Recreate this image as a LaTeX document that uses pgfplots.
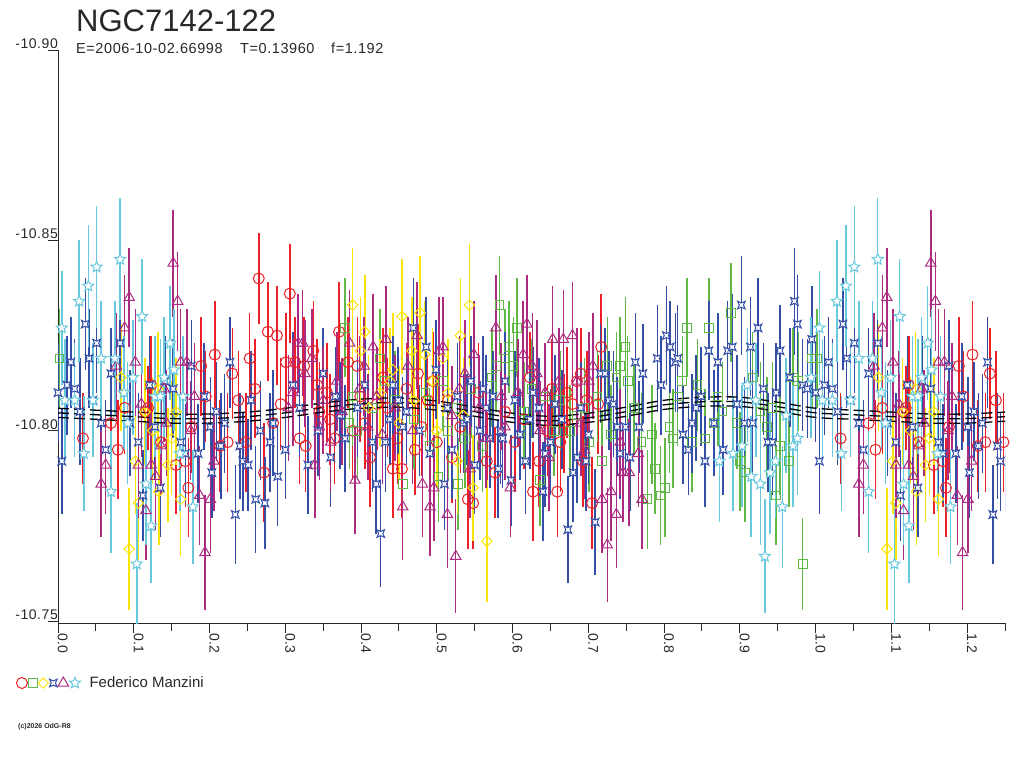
\documentclass[border=0pt]{standalone}
\usepackage{fontspec}
\setmainfont{Liberation Sans}
\newfontfamily\spaced[LetterSpace=4]{Liberation Sans}
\usepackage{pgfplots}
\usepackage{pgfplotstable}
\pgfplotsset{compat=1.18}
\usetikzlibrary{plotmarks}

\definecolor{cred}{RGB}{236,32,40}
\definecolor{cgreen}{RGB}{98,184,70}
\definecolor{cyel}{RGB}{250,228,10}
\definecolor{cblue}{RGB}{52,78,168}
\definecolor{cmag}{RGB}{172,42,128}
\definecolor{ccyan}{RGB}{104,200,222}
\definecolor{txt}{RGB}{40,40,40}

\pgfdeclareplotmark{qstar}{%
  \pgfpathmoveto{\pgfqpoint{-\pgfplotmarksize}{-\pgfplotmarksize}}%
  \pgfpathlineto{\pgfqpoint{0pt}{-0.55\pgfplotmarksize}}%
  \pgfpathlineto{\pgfqpoint{\pgfplotmarksize}{-\pgfplotmarksize}}%
  \pgfpathlineto{\pgfqpoint{0.55\pgfplotmarksize}{0pt}}%
  \pgfpathlineto{\pgfqpoint{\pgfplotmarksize}{\pgfplotmarksize}}%
  \pgfpathlineto{\pgfqpoint{0pt}{0.55\pgfplotmarksize}}%
  \pgfpathlineto{\pgfqpoint{-\pgfplotmarksize}{\pgfplotmarksize}}%
  \pgfpathlineto{\pgfqpoint{-0.55\pgfplotmarksize}{0pt}}%
  \pgfpathclose
  \pgfusepathqfillstroke}

\pgfdeclareplotmark{ostar}{%
  \pgfpathmoveto{\pgfqpoint{0pt}{\pgfplotmarksize}}%
  \pgfpathlineto{\pgfqpoint{-0.265\pgfplotmarksize}{0.364\pgfplotmarksize}}%
  \pgfpathlineto{\pgfqpoint{-0.951\pgfplotmarksize}{0.309\pgfplotmarksize}}%
  \pgfpathlineto{\pgfqpoint{-0.428\pgfplotmarksize}{-0.139\pgfplotmarksize}}%
  \pgfpathlineto{\pgfqpoint{-0.588\pgfplotmarksize}{-0.809\pgfplotmarksize}}%
  \pgfpathlineto{\pgfqpoint{0pt}{-0.45\pgfplotmarksize}}%
  \pgfpathlineto{\pgfqpoint{0.588\pgfplotmarksize}{-0.809\pgfplotmarksize}}%
  \pgfpathlineto{\pgfqpoint{0.428\pgfplotmarksize}{-0.139\pgfplotmarksize}}%
  \pgfpathlineto{\pgfqpoint{0.951\pgfplotmarksize}{0.309\pgfplotmarksize}}%
  \pgfpathlineto{\pgfqpoint{0.265\pgfplotmarksize}{0.364\pgfplotmarksize}}%
  \pgfpathclose
  \pgfusepathqfillstroke}

\pgfplotstableread{
p m e
0.033 -10.798 0.012
0.070 -10.802 0.013
0.079 -10.795 0.013
0.088 -10.806 0.012
0.115 -10.805 0.013
0.119 -10.806 0.011
0.123 -10.812 0.013
0.136 -10.797 0.012
0.156 -10.791 0.013
0.168 -10.792 0.012
0.172 -10.785 0.013
0.176 -10.801 0.012
0.189 -10.817 0.013
0.195 -10.809 0.012
0.207 -10.820 0.014
0.214 -10.796 0.012
0.224 -10.797 0.013
0.230 -10.815 0.012
0.238 -10.808 0.013
0.248 -10.797 0.013
0.253 -10.819 0.012
0.260 -10.811 0.013
0.265 -10.840 0.012
0.272 -10.789 0.013
0.277 -10.826 0.013
0.284 -10.802 0.012
0.289 -10.825 0.013
0.294 -10.807 0.012
0.301 -10.818 0.013
0.306 -10.836 0.013
0.313 -10.818 0.012
0.319 -10.798 0.012
0.325 -10.817 0.013
0.327 -10.796 0.012
0.337 -10.821 0.013
0.342 -10.812 0.012
0.355 -10.810 0.013
0.359 -10.803 0.012
0.371 -10.826 0.013
0.383 -10.818 0.012
0.389 -10.800 0.013
0.399 -10.809 0.012
0.412 -10.793 0.013
0.421 -10.807 0.012
0.429 -10.814 0.013
0.442 -10.790 0.013
0.448 -10.798 0.012
0.454 -10.790 0.013
0.471 -10.795 0.012
0.475 -10.815 0.013
0.488 -10.808 0.012
0.495 -10.813 0.013
0.531 -10.801 0.012
0.541 -10.782 0.013
0.548 -10.781 0.012
0.566 -10.792 0.013
0.577 -10.789 0.012
0.603 -10.797 0.013
0.623 -10.814 0.012
0.627 -10.784 0.013
0.646 -10.800 0.012
0.652 -10.811 0.013
0.659 -10.784 0.012
0.663 -10.797 0.013
0.672 -10.810 0.012
0.679 -10.807 0.013
0.685 -10.813 0.013
0.693 -10.792 0.012
0.698 -10.808 0.013
0.705 -10.781 0.012
0.713 -10.807 0.013
0.717 -10.822 0.014
0.345 -10.805 0.013
0.365 -10.798 0.012
0.395 -10.817 0.013
0.405 -10.802 0.012
0.435 -10.806 0.013
0.460 -10.811 0.012
0.480 -10.801 0.013
0.500 -10.797 0.012
0.515 -10.808 0.013
0.520 -10.793 0.012
0.555 -10.810 0.013
0.590 -10.805 0.012
0.615 -10.803 0.013
0.635 -10.792 0.012
0.668 -10.802 0.013
0.690 -10.815 0.012
}\tblred

\pgfplotstableread{
p m e
0.002 -10.819 0.013
0.379 -10.827 0.013
0.385 -10.802 0.012
0.389 -10.809 0.013
0.425 -10.819 0.013
0.432 -10.813 0.012
0.455 -10.786 0.013
0.491 -10.796 0.013
0.502 -10.788 0.012
0.508 -10.813 0.013
0.527 -10.806 0.013
0.528 -10.786 0.012
0.537 -10.798 0.013
0.573 -10.814 0.013
0.578 -10.817 0.012
0.583 -10.833 0.013
0.590 -10.819 0.013
0.595 -10.822 0.012
0.601 -10.817 0.013
0.606 -10.827 0.013
0.636 -10.787 0.012
0.643 -10.809 0.013
0.663 -10.808 0.013
0.676 -10.800 0.012
0.685 -10.804 0.013
0.701 -10.797 0.013
0.712 -10.809 0.012
0.718 -10.792 0.013
0.725 -10.817 0.013
0.737 -10.814 0.012
0.742 -10.817 0.013
0.749 -10.822 0.013
0.752 -10.813 0.012
0.778 -10.782 0.013
0.784 -10.799 0.013
0.788 -10.790 0.012
0.795 -10.783 0.013
0.801 -10.785 0.013
0.807 -10.801 0.012
0.812 -10.798 0.013
0.818 -10.809 0.013
0.824 -10.813 0.012
0.830 -10.827 0.013
0.837 -10.797 0.013
0.844 -10.812 0.012
0.854 -10.798 0.013
0.859 -10.827 0.013
0.866 -10.802 0.012
0.871 -10.809 0.013
0.877 -10.805 0.013
0.888 -10.831 0.013
0.896 -10.802 0.012
0.900 -10.792 0.013
0.907 -10.789 0.013
0.917 -10.814 0.012
0.927 -10.805 0.013
0.936 -10.801 0.013
0.943 -10.806 0.012
0.948 -10.783 0.013
0.953 -10.796 0.013
0.965 -10.792 0.012
0.970 -10.814 0.013
0.977 -10.813 0.013
0.983 -10.765 0.012
0.995 -10.819 0.013
0.395 -10.800 0.013
0.415 -10.806 0.012
0.445 -10.808 0.013
0.470 -10.803 0.013
0.485 -10.810 0.012
0.515 -10.800 0.013
0.545 -10.811 0.013
0.560 -10.796 0.012
0.615 -10.805 0.013
0.625 -10.811 0.013
0.655 -10.800 0.012
0.695 -10.806 0.013
0.730 -10.799 0.013
0.760 -10.806 0.012
0.770 -10.797 0.013
}\tblgreen

\pgfplotstableread{
p m e
0.083 -10.814 0.014
0.094 -10.769 0.016
0.102 -10.792 0.014
0.106 -10.781 0.015
0.115 -10.805 0.014
0.132 -10.811 0.015
0.133 -10.784 0.014
0.145 -10.791 0.015
0.156 -10.805 0.014
0.162 -10.782 0.015
0.389 -10.833 0.015
0.399 -10.821 0.014
0.405 -10.826 0.015
0.425 -10.810 0.014
0.438 -10.813 0.014
0.442 -10.816 0.015
0.454 -10.830 0.015
0.467 -10.821 0.014
0.478 -10.831 0.015
0.484 -10.820 0.014
0.494 -10.813 0.014
0.508 -10.819 0.015
0.527 -10.792 0.014
0.531 -10.825 0.015
0.543 -10.833 0.016
0.548 -10.785 0.014
0.566 -10.771 0.016
0.410 -10.806 0.014
0.450 -10.802 0.015
0.470 -10.808 0.014
0.500 -10.800 0.015
0.515 -10.810 0.014
0.535 -10.804 0.015
0.125 -10.800 0.014
0.150 -10.798 0.015
}\tblyel

\pgfplotstableread{
p m e
0.000 -10.810 0.013
0.005 -10.792 0.014
0.012 -10.812 0.013
0.017 -10.818 0.012
0.022 -10.811 0.013
0.029 -10.805 0.014
0.036 -10.828 0.012
0.041 -10.819 0.013
0.046 -10.808 0.012
0.051 -10.823 0.013
0.057 -10.802 0.014
0.063 -10.795 0.013
0.070 -10.815 0.012
0.082 -10.823 0.013
0.095 -10.802 0.014
0.106 -10.797 0.013
0.112 -10.783 0.012
0.121 -10.812 0.013
0.128 -10.801 0.014
0.135 -10.785 0.013
0.141 -10.813 0.012
0.152 -10.811 0.013
0.162 -10.797 0.014
0.168 -10.794 0.013
0.176 -10.817 0.012
0.185 -10.794 0.013
0.193 -10.809 0.014
0.201 -10.801 0.013
0.203 -10.789 0.012
0.209 -10.805 0.013
0.215 -10.796 0.014
0.220 -10.802 0.013
0.227 -10.818 0.012
0.234 -10.778 0.013
0.240 -10.796 0.014
0.244 -10.792 0.013
0.251 -10.791 0.012
0.255 -10.808 0.013
0.261 -10.782 0.014
0.267 -10.800 0.013
0.273 -10.781 0.012
0.280 -10.797 0.013
0.284 -10.802 0.014
0.290 -10.788 0.013
0.319 -10.806 0.013
0.343 -10.800 0.012
0.366 -10.809 0.013
0.379 -10.798 0.014
0.420 -10.786 0.013
0.426 -10.773 0.014
0.432 -10.797 0.013
0.438 -10.803 0.012
0.442 -10.812 0.013
0.449 -10.808 0.014
0.455 -10.801 0.013
0.469 -10.827 0.013
0.477 -10.800 0.012
0.486 -10.822 0.013
0.491 -10.794 0.014
0.499 -10.816 0.013
0.510 -10.786 0.012
0.514 -10.806 0.013
0.527 -10.809 0.014
0.535 -10.802 0.013
0.545 -10.813 0.012
0.557 -10.800 0.013
0.561 -10.811 0.014
0.570 -10.798 0.013
0.574 -10.809 0.012
0.581 -10.790 0.013
0.584 -10.800 0.014
0.587 -10.798 0.013
0.598 -10.787 0.012
0.603 -10.808 0.013
0.617 -10.792 0.014
0.623 -10.803 0.013
0.627 -10.810 0.012
0.640 -10.784 0.013
0.643 -10.794 0.014
0.656 -10.807 0.013
0.673 -10.774 0.014
0.680 -10.789 0.013
0.685 -10.793 0.012
0.697 -10.792 0.013
0.709 -10.776 0.014
0.716 -10.815 0.013
0.722 -10.815 0.012
0.727 -10.808 0.013
0.733 -10.807 0.014
0.738 -10.801 0.013
0.742 -10.794 0.012
0.749 -10.801 0.013
0.755 -10.793 0.014
0.762 -10.818 0.013
0.767 -10.801 0.012
0.772 -10.815 0.013
0.791 -10.819 0.014
0.796 -10.812 0.013
0.803 -10.825 0.013
0.808 -10.822 0.012
0.815 -10.818 0.013
0.818 -10.819 0.014
0.825 -10.799 0.013
0.832 -10.795 0.012
0.837 -10.802 0.013
0.842 -10.806 0.014
0.849 -10.809 0.013
0.854 -10.792 0.012
0.859 -10.821 0.013
0.866 -10.802 0.014
0.871 -10.818 0.013
0.878 -10.795 0.012
0.884 -10.821 0.013
0.890 -10.822 0.014
0.896 -10.807 0.013
0.902 -10.833 0.013
0.906 -10.802 0.012
0.914 -10.822 0.013
0.917 -10.802 0.014
0.924 -10.827 0.013
0.931 -10.811 0.012
0.937 -10.797 0.013
0.943 -10.797 0.014
0.948 -10.810 0.013
0.953 -10.821 0.012
0.966 -10.814 0.013
0.972 -10.834 0.014
0.976 -10.828 0.013
0.983 -10.812 0.012
0.989 -10.811 0.013
0.995 -10.824 0.014
0.395 -10.806 0.013
0.405 -10.812 0.012
0.415 -10.797 0.013
0.460 -10.805 0.014
0.520 -10.795 0.013
0.540 -10.803 0.012
0.550 -10.791 0.013
0.565 -10.806 0.014
0.590 -10.813 0.013
0.610 -10.799 0.012
0.635 -10.806 0.013
0.650 -10.797 0.014
0.665 -10.803 0.013
0.690 -10.806 0.012
0.700 -10.799 0.013
0.300 -10.795 0.013
0.310 -10.812 0.014
0.330 -10.791 0.013
0.350 -10.815 0.012
0.360 -10.793 0.013
0.372 -10.804 0.014
}\tblblue

\pgfplotstableread{
p m e
0.057 -10.786 0.014
0.063 -10.791 0.013
0.077 -10.817 0.014
0.088 -10.827 0.014
0.094 -10.835 0.013
0.102 -10.818 0.014
0.106 -10.791 0.014
0.116 -10.779 0.013
0.123 -10.791 0.014
0.129 -10.788 0.014
0.136 -10.796 0.013
0.143 -10.802 0.014
0.152 -10.844 0.014
0.158 -10.834 0.013
0.162 -10.818 0.014
0.170 -10.818 0.014
0.187 -10.783 0.013
0.194 -10.768 0.015
0.201 -10.782 0.014
0.206 -10.792 0.013
0.304 -10.806 0.014
0.310 -10.810 0.014
0.317 -10.823 0.013
0.323 -10.823 0.014
0.326 -10.815 0.014
0.335 -10.819 0.013
0.339 -10.791 0.014
0.345 -10.801 0.014
0.368 -10.813 0.013
0.385 -10.823 0.014
0.392 -10.787 0.014
0.404 -10.817 0.013
0.409 -10.801 0.014
0.416 -10.822 0.014
0.421 -10.809 0.013
0.433 -10.824 0.014
0.455 -10.780 0.014
0.462 -10.817 0.013
0.474 -10.825 0.014
0.481 -10.786 0.014
0.491 -10.780 0.013
0.496 -10.785 0.014
0.503 -10.821 0.014
0.508 -10.822 0.013
0.514 -10.778 0.014
0.525 -10.767 0.015
0.537 -10.815 0.014
0.544 -10.790 0.013
0.549 -10.820 0.014
0.578 -10.827 0.014
0.597 -10.785 0.013
0.607 -10.810 0.014
0.614 -10.820 0.014
0.619 -10.828 0.013
0.626 -10.817 0.014
0.632 -10.815 0.014
0.643 -10.810 0.013
0.653 -10.824 0.014
0.661 -10.813 0.014
0.667 -10.824 0.013
0.679 -10.825 0.014
0.685 -10.813 0.014
0.701 -10.813 0.013
0.706 -10.817 0.014
0.718 -10.782 0.014
0.725 -10.770 0.015
0.730 -10.784 0.013
0.737 -10.778 0.014
0.742 -10.797 0.014
0.746 -10.789 0.013
0.754 -10.789 0.014
0.766 -10.794 0.014
0.771 -10.782 0.013
0.350 -10.808 0.014
0.360 -10.797 0.013
0.375 -10.805 0.014
0.398 -10.811 0.014
0.428 -10.799 0.013
0.445 -10.806 0.014
0.468 -10.800 0.014
0.520 -10.804 0.013
0.530 -10.811 0.014
0.556 -10.806 0.014
0.565 -10.798 0.013
0.585 -10.809 0.014
0.590 -10.801 0.014
0.636 -10.800 0.013
0.648 -10.793 0.014
0.690 -10.802 0.014
0.695 -10.795 0.013
0.110 -10.807 0.014
0.140 -10.811 0.014
0.175 -10.800 0.013
0.180 -10.809 0.014
}\tblmag

\pgfplotstableread{
p m e
0.005 -10.827 0.015
0.009 -10.808 0.016
0.022 -10.808 0.015
0.028 -10.834 0.016
0.034 -10.794 0.015
0.040 -10.838 0.016
0.046 -10.808 0.015
0.051 -10.843 0.016
0.057 -10.819 0.015
0.070 -10.784 0.016
0.075 -10.819 0.015
0.082 -10.845 0.016
0.087 -10.810 0.015
0.092 -10.802 0.016
0.099 -10.814 0.015
0.104 -10.765 0.016
0.111 -10.830 0.015
0.116 -10.786 0.016
0.123 -10.775 0.015
0.128 -10.809 0.016
0.135 -10.809 0.015
0.140 -10.814 0.016
0.148 -10.823 0.015
0.153 -10.816 0.016
0.161 -10.794 0.015
0.165 -10.809 0.016
0.178 -10.780 0.015
0.873 -10.792 0.016
0.891 -10.794 0.015
0.903 -10.796 0.016
0.910 -10.812 0.015
0.915 -10.788 0.016
0.921 -10.808 0.015
0.927 -10.786 0.016
0.933 -10.767 0.015
0.940 -10.789 0.016
0.947 -10.792 0.015
0.956 -10.780 0.016
0.961 -10.804 0.015
0.970 -10.796 0.016
0.976 -10.798 0.015
0.994 -10.814 0.016
}\tblcyan

\pgfplotstableread{
p mid up dn
0.00 -10.8047 -10.8059 -10.8035
0.05 -10.8042 -10.8054 -10.8030
0.10 -10.8037 -10.8049 -10.8025
0.15 -10.8032 -10.8044 -10.8020
0.20 -10.8032 -10.8044 -10.8020
0.25 -10.8037 -10.8049 -10.8025
0.30 -10.8047 -10.8059 -10.8035
0.35 -10.8061 -10.8073 -10.8049
0.40 -10.8071 -10.8083 -10.8059
0.45 -10.8074 -10.8086 -10.8062
0.50 -10.8066 -10.8078 -10.8054
0.55 -10.8050 -10.8062 -10.8038
0.60 -10.8034 -10.8046 -10.8022
0.65 -10.8026 -10.8038 -10.8014
0.70 -10.8034 -10.8046 -10.8022
0.75 -10.8050 -10.8062 -10.8038
0.80 -10.8068 -10.8080 -10.8056
0.85 -10.8076 -10.8088 -10.8064
0.90 -10.8076 -10.8088 -10.8064
0.95 -10.8063 -10.8075 -10.8051
1.00 -10.8047 -10.8059 -10.8035
1.05 -10.8042 -10.8054 -10.8030
1.10 -10.8037 -10.8049 -10.8025
1.15 -10.8032 -10.8044 -10.8020
1.20 -10.8032 -10.8044 -10.8020
1.25 -10.8037 -10.8049 -10.8025
}\tblfit

\pgfplotsset{
  ebar/.style={only marks,
    error bars/y dir=both, error bars/y explicit, error bars/error mark=none,
    error bars/error bar style={line width=1.5pt, solid}},
  sred/.style={ebar, color=cred, mark=o, mark size=5.5pt, mark options={fill=white, line width=1pt}},
  sgreen/.style={ebar, color=cgreen, mark=square, mark size=4.3pt, mark options={fill=white, line width=1pt}},
  syel/.style={ebar, color=cyel, mark=square, mark size=3.7pt, mark options={fill=white, line width=1pt, rotate=45}},
  sblue/.style={ebar, color=cblue, mark=qstar, mark size=3.8pt, mark options={fill=white, line width=1pt}},
  smag/.style={ebar, color=cmag, mark=triangle, mark size=6pt, mark options={fill=white, line width=1pt}},
  scyan/.style={ebar, color=ccyan, mark=ostar, mark size=5.8pt, mark options={fill=white, line width=1pt}},
  sfit/.style={black, line width=1.3pt, dash pattern=on 11pt off 5pt, smooth, no marks, forget plot},
}

\begin{document}
\begin{tikzpicture}
\useasboundingbox (0pt,0pt) rectangle (1024pt,768pt);
\begin{axis}[
  at={(58pt,145pt)}, anchor=south west,
  scale only axis, width=947pt, height=573pt,
  xmin=0, xmax=1.25, ymin=-10.90, ymax=-10.7495, y dir=reverse,
  axis lines*=left,
  axis line style={-, line width=1pt, color=txt},
  xtick={0,0.1,0.2,0.3,0.4,0.5,0.6,0.7,0.8,0.9,1.0,1.1,1.2},
  xticklabels={0.0,0.1,0.2,0.3,0.4,0.5,0.6,0.7,0.8,0.9,1.0,1.1,1.2},
  minor xtick={0.05,0.15,0.25,0.35,0.45,0.55,0.65,0.75,0.85,0.95,1.05,1.15,1.25},
  ytick={-10.90,-10.85,-10.80,-10.75},
  yticklabels={-10.90,-10.85,-10.80,-10.75},
  tick align=outside,
  major tick length=10pt, minor tick length=8pt,
  tick style={line width=1pt, color=txt},
  xticklabel style={rotate=-90, anchor=base west, inner sep=0pt, font=\spaced\fontsize{14}{14}\selectfont, text=txt},
  yticklabel style={anchor=base east, inner sep=0pt, xshift=10pt, yshift=1.5pt, font=\spaced\fontsize{14}{14}\selectfont, text=txt},
  legend columns=6,
  legend image code/.code={\draw[mark repeat=2,mark phase=2,#1] plot coordinates {(0pt,0pt) (5.75pt,0pt) (11.5pt,0pt)};},
  legend style={at={(axis description cs:-0.0441,-0.1047)}, anchor=west, draw=none, fill=none,
    inner sep=0pt, nodes={inner sep=0pt}, column sep=0pt,
    font=\fontsize{15}{15}\selectfont, text=txt},
]
\addplot[sred] table[x=p, y=m, y error=e] {\tblred};
\addlegendentry{\mbox{}}
\addplot[sgreen] table[x=p, y=m, y error=e] {\tblgreen};
\addlegendentry{\mbox{}}
\addplot[syel] table[x=p, y=m, y error=e] {\tblyel};
\addlegendentry{\mbox{}}
\addplot[sblue] table[x=p, y=m, y error=e] {\tblblue};
\addlegendentry{\mbox{}}
\addplot[smag] table[x=p, y=m, y error=e] {\tblmag};
\addlegendentry{\mbox{}}
\addplot[scyan] table[x=p, y=m, y error=e] {\tblcyan};
\addlegendentry{\hspace{9pt}Federico Manzini}

\addplot[sred, forget plot, restrict x to domain=1:1.3] table[x expr=\thisrow{p}+1, y=m, y error=e] {\tblred};
\addplot[sgreen, forget plot, restrict x to domain=1:1.3] table[x expr=\thisrow{p}+1, y=m, y error=e] {\tblgreen};
\addplot[syel, forget plot, restrict x to domain=1:1.3] table[x expr=\thisrow{p}+1, y=m, y error=e] {\tblyel};
\addplot[sblue, forget plot, restrict x to domain=1:1.3] table[x expr=\thisrow{p}+1, y=m, y error=e] {\tblblue};
\addplot[smag, forget plot, restrict x to domain=1:1.3] table[x expr=\thisrow{p}+1, y=m, y error=e] {\tblmag};
\addplot[scyan, forget plot, restrict x to domain=1:1.3] table[x expr=\thisrow{p}+1, y=m, y error=e] {\tblcyan};

\addplot[sfit] table[x=p, y=mid] {\tblfit};
\addplot[sfit] table[x=p, y=up] {\tblfit};
\addplot[sfit] table[x=p, y=dn] {\tblfit};
\end{axis}
\node[anchor=base west, inner sep=0pt, text=txt, font=\fontsize{31}{31}\selectfont] at (76pt,736pt) {NGC7142-122};
\node[anchor=base west, inner sep=0pt, text=txt, font=\spaced\fontsize{14.5}{14.5}\selectfont] at (76pt,714pt) {E=2006-10-02.66998};
\node[anchor=base west, inner sep=0pt, text=txt, font=\spaced\fontsize{14.5}{14.5}\selectfont] at (240pt,714pt) {T=0.13960};
\node[anchor=base west, inner sep=0pt, text=txt, font=\spaced\fontsize{14.5}{14.5}\selectfont] at (331pt,714pt) {f=1.192};
\node[anchor=base west, inner sep=0pt, text=txt, font=\fontsize{7}{7}\bfseries\selectfont] at (18pt,40pt) {(c)2026 OdG-R8};
\end{tikzpicture}
\end{document}
